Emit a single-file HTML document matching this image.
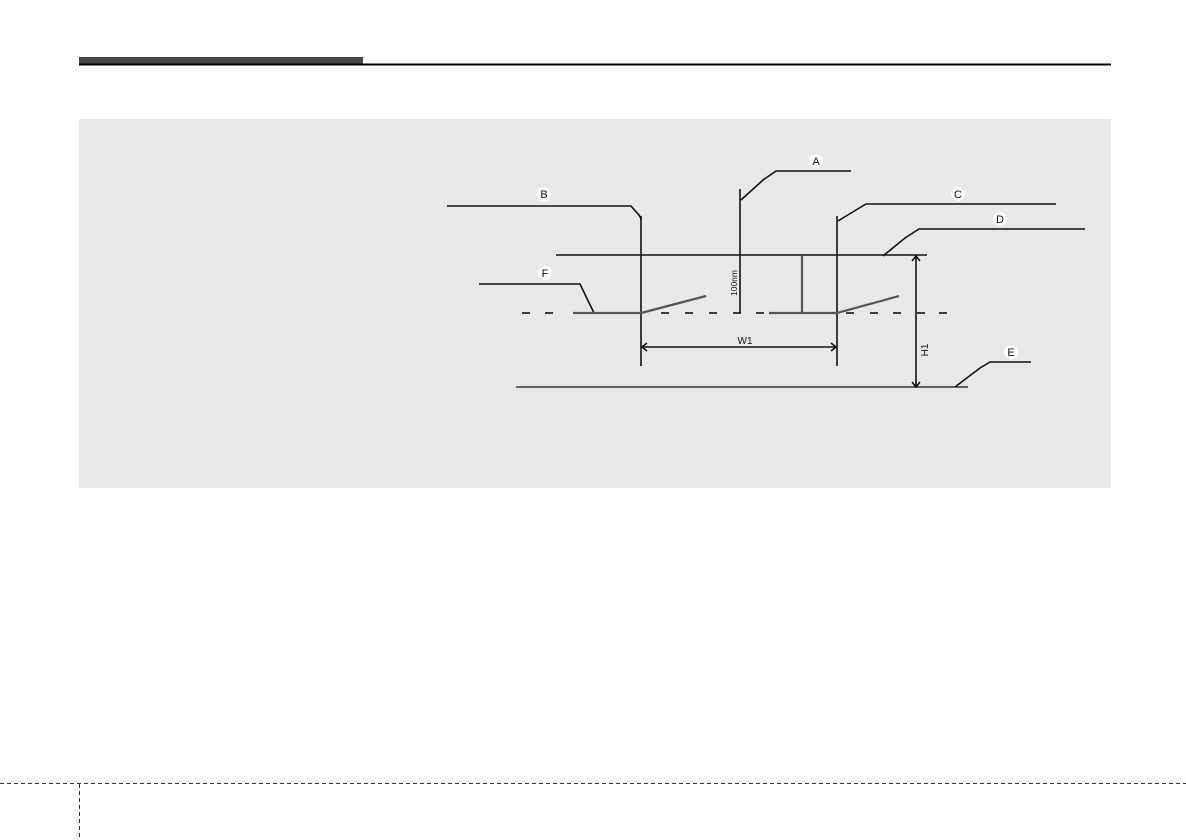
<!DOCTYPE html>
<html><head><meta charset="utf-8"><style>
html,body{margin:0;padding:0;background:#fff;width:1186px;height:840px;overflow:hidden}
svg{display:block}
text{font-family:"Liberation Sans",sans-serif;}
</style></head><body>
<svg width="1186" height="840" viewBox="0 0 1186 840" xmlns="http://www.w3.org/2000/svg">
<rect x="79" y="57" width="284" height="8" fill="#454545"/>
<rect x="79" y="63.5" width="1032" height="2" fill="#000"/>
<rect x="79" y="119" width="1032" height="369" fill="#e8e8e8"/>
<g stroke="#111" stroke-width="1.6" fill="none">
 <path d="M447 206 H631 L638 214 Q641 217 641 220"/>
 <line x1="641" y1="216" x2="641" y2="366"/>
 <line x1="740" y1="189" x2="740" y2="313"/>
 <path d="M741 200 L763 180 L776 171 H851"/>
 <line x1="556" y1="255" x2="927" y2="255"/>
 <path d="M479 284 H580 L594 313"/>
 <line x1="837" y1="216" x2="837" y2="366"/>
 <path d="M838 221 L856 210 L866 204 H1056"/>
 <path d="M883 256 L905 238 L919 229 H1085"/>
 <line x1="516" y1="387" x2="968" y2="387" stroke-width="1.3"/>
 <path d="M955 387 L980 368 L990 362 H1031"/>
 <line x1="642" y1="347" x2="836" y2="347"/>
 <path d="M647 343 L642 347 L647 351 M831 343 L836 347 L831 351"/>
 <line x1="916" y1="256" x2="916" y2="387"/>
 <path d="M912 261 L916 256 L920 261 M912 382 L916 387 L920 382"/>
</g>
<g stroke="#111" stroke-width="1.6">
 <line x1="522" y1="313" x2="530" y2="313"/><line x1="545" y1="313" x2="553" y2="313"/>
 <line x1="661" y1="313" x2="669" y2="313"/><line x1="685" y1="313" x2="693" y2="313"/>
 <line x1="709" y1="313" x2="717" y2="313"/><line x1="733" y1="313" x2="741" y2="313"/>
 <line x1="756" y1="313" x2="764" y2="313"/>
 <line x1="846" y1="313" x2="854" y2="313"/><line x1="870" y1="313" x2="878" y2="313"/>
 <line x1="893" y1="313" x2="901" y2="313"/><line x1="917" y1="313" x2="925" y2="313"/>
 <line x1="939" y1="313" x2="947" y2="313"/>
</g>
<g stroke="#555" stroke-width="2.2" fill="none">
 <line x1="573" y1="313" x2="641" y2="313"/>
 <line x1="641" y1="313" x2="706" y2="296"/>
 <line x1="769" y1="313" x2="837" y2="313"/>
 <line x1="837" y1="313" x2="899" y2="296"/>
 <line x1="802" y1="256" x2="802" y2="313"/>
</g>
<g fill="#fff">
 <circle cx="544" cy="194" r="7"/><circle cx="816" cy="161" r="7"/>
 <circle cx="958" cy="194" r="7"/><circle cx="1000" cy="219" r="7"/>
 <circle cx="545" cy="273" r="7"/><circle cx="1011" cy="352" r="7"/>
</g>
<g font-size="11" fill="#111" text-anchor="middle">
 <text x="544" y="198">B</text><text x="816" y="165">A</text>
 <text x="958" y="198">C</text><text x="1000" y="223">D</text>
 <text x="545" y="277">F</text><text x="1011" y="356">E</text>
 <text x="745" y="344" font-size="10">W1</text>
 <text transform="translate(928,350) rotate(-90)" font-size="10">H1</text>
 <text transform="translate(737,283) rotate(-90)" font-size="8.5">100nm</text>
</g>
<line x1="0" y1="783.5" x2="1186" y2="783.5" stroke="#333" stroke-width="1" stroke-dasharray="4,3"/>
<line x1="79.5" y1="784" x2="79.5" y2="840" stroke="#333" stroke-width="1" stroke-dasharray="4,3"/>
</svg>
</body></html>
